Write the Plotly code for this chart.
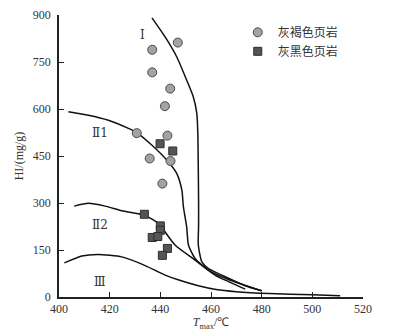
import plotly.graph_objects as go

# Samples: Tmax (°C) vs hydrogen index HI (mg/g)
brown_tmax = [446.9, 436.8, 436.8, 443.9, 441.8, 430.7, 442.8, 435.8, 444.0, 440.8]
brown_hi = [812, 789, 717, 665, 609, 523, 515, 442, 434, 362]
black_tmax = [439.9, 444.9, 433.7, 440.0, 440.0, 436.8, 439.0, 442.8, 440.8]
black_hi = [489, 466, 264, 227, 213, 190, 193, 155, 133]

# Kerogen type boundary curves
b1_t = [436.7, 441.9, 446.5, 450.4, 453.0, 454.4, 454.8, 454.9, 455.1, 455.1, 455.0, 456.4, 459.0, 466.9, 473.5, 480.0]
b1_hi = [891, 830, 766, 692, 639, 586, 522, 468, 308, 229, 165, 112, 91, 60, 36, 20]
b2_t = [403.7, 411.6, 419.5, 427.4, 430.8, 436.6, 443.2, 446.5, 448.5, 449.1, 450.4, 451.1, 453.7, 459.0, 466.9, 480.0]
b2_hi = [591, 580, 564, 538, 524, 485, 431, 394, 341, 288, 224, 166, 123, 86, 56, 20]
b3_t = [406.0, 411.6, 418.2, 424.8, 433.7, 439.2, 445.8, 453.7, 461.6, 466.9, 473.5]
b3_hi = [290, 299, 290, 275, 261, 235, 166, 118, 70, 49, 25]
b4_t = [402.1, 409.0, 415.5, 424.8, 432.7, 441.9, 447.0, 455.0, 462.0, 470.0, 483.0, 500.0, 511.0]
b4_hi = [109, 131, 136, 128, 105, 70, 55, 36, 24, 17, 11, 7, 4]

zone_labels = ["Ⅰ", "Ⅱ1", "Ⅱ2", "Ⅲ"]
zone_t = [433.0, 416.0, 416.0, 416.2]
zone_hi = [835, 522, 230, 49]

x_ticks = [400, 420, 440, 460, 480, 500, 520]
y_ticks = [0, 150, 300, 450, 600, 750, 900]

SERIF = "Liberation Serif, Times New Roman, serif"
NUMERAL = "DejaVu Serif, DejaVu Sans, serif"
CJK = "Noto Sans CJK SC"

fig = go.Figure()

for t, hi in [(b1_t, b1_hi), (b2_t, b2_hi), (b3_t, b3_hi), (b4_t, b4_hi)]:
    fig.add_trace(go.Scatter(
        x=t, y=hi, mode="lines", showlegend=False, hoverinfo="skip",
        line=dict(color="#111111", width=1.5, shape="spline", smoothing=0.6),
    ))

fig.add_trace(go.Scatter(
    x=brown_tmax, y=brown_hi, mode="markers", name="灰褐色页岩",
    marker=dict(symbol="circle", size=9, color="#a3a3a3",
                line=dict(color="#4a4a4a", width=1)),
))
fig.add_trace(go.Scatter(
    x=black_tmax, y=black_hi, mode="markers", name="灰黑色页岩",
    marker=dict(symbol="square", size=8, color="#555555",
                line=dict(color="#2e2e2e", width=1)),
))

for lab, t, hi in zip(zone_labels, zone_t, zone_hi):
    fig.add_annotation(x=t, y=hi, text=lab, showarrow=False,
                       font=dict(family=NUMERAL, size=12, color="#333333"))

axis_common = dict(
    showline=True, linecolor="#222222", linewidth=1.5,
    ticks="inside", ticklen=5, tickwidth=1.2, tickcolor="#222222",
    showgrid=False, zeroline=False, mirror=False, automargin=False,
    tickfont=dict(family=SERIF, size=12, color="#333333"),
)

fig.update_xaxes(
    range=[400, 520], tickvals=x_ticks, **axis_common,
    title=dict(text="<i>T</i><sub>max</sub>/℃", standoff=1,
               font=dict(family=SERIF, size=12, color="#333333")),
)
fig.update_yaxes(
    range=[0, 900], tickvals=y_ticks, ticklabelstandoff=4, **axis_common,
    title=dict(text="HI/(mg/g)", standoff=7,
               font=dict(family=SERIF, size=12, color="#333333")),
)

fig.update_layout(
    width=406, height=331,
    margin=dict(l=59, r=43, t=15, b=34),
    plot_bgcolor="white", paper_bgcolor="white",
    legend=dict(x=0.588, y=0.99, xanchor="left", yanchor="top",
                bgcolor="rgba(0,0,0,0)", tracegroupgap=0, itemwidth=30,
                font=dict(family=CJK, size=12, color="#333333")),
)

fig.write_html("out.html")
